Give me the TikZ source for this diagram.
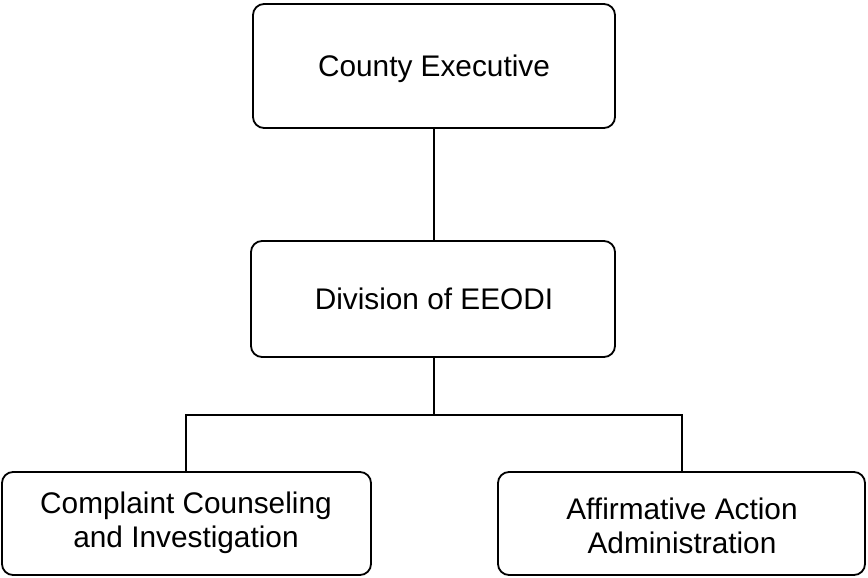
\documentclass[tikz,border=0pt]{standalone}
\usepackage{fontspec}
\setmainfont{Liberation Sans}
\begin{document}
\begin{tikzpicture}[x=1pt,y=-1pt,
  orgbox/.style={draw=black, line width=1.8pt, rounded corners=11pt, fill=white},
  orgtext/.style={font=\fontsize{29.8}{33.5}\selectfont, align=center},
  link/.style={draw=black, line width=1.8pt}]
  \useasboundingbox[fill=white] (0,0) rectangle (868,578);
  % boxes
  \draw[orgbox] (253,4) rectangle (615,128);
  \draw[orgbox] (251,241) rectangle (615,357);
  \draw[orgbox] (2,472) rectangle (371,575);
  \draw[orgbox] (498,472) rectangle (865,575);
  % labels
  \node[orgtext] (exec) at (434,69) {County Executive};
  \node[orgtext] (div) at (434,299) {Division of EEODI};
  \node[orgtext] (comp) at (186,523) {Complaint Counseling\\and Investigation};
  \node[orgtext] (aff) at (682,526) {Affirmative Action\\Administration};
  % connector anchors
  \coordinate (execB) at (434,128);
  \coordinate (divT) at (434,241);
  \coordinate (divB) at (434,357);
  \coordinate (bus) at (434,415);
  \coordinate (busL) at (186,415);
  \coordinate (busR) at (682,415);
  \coordinate (compT) at (186,472);
  \coordinate (affT) at (682,472);
  % connectors
  \draw[link] (execB) -- (divT);
  \draw[link] (divB) -- (bus);
  \draw[link] (compT) -- (busL) -- (busR) -- (affT);
\end{tikzpicture}
\end{document}
